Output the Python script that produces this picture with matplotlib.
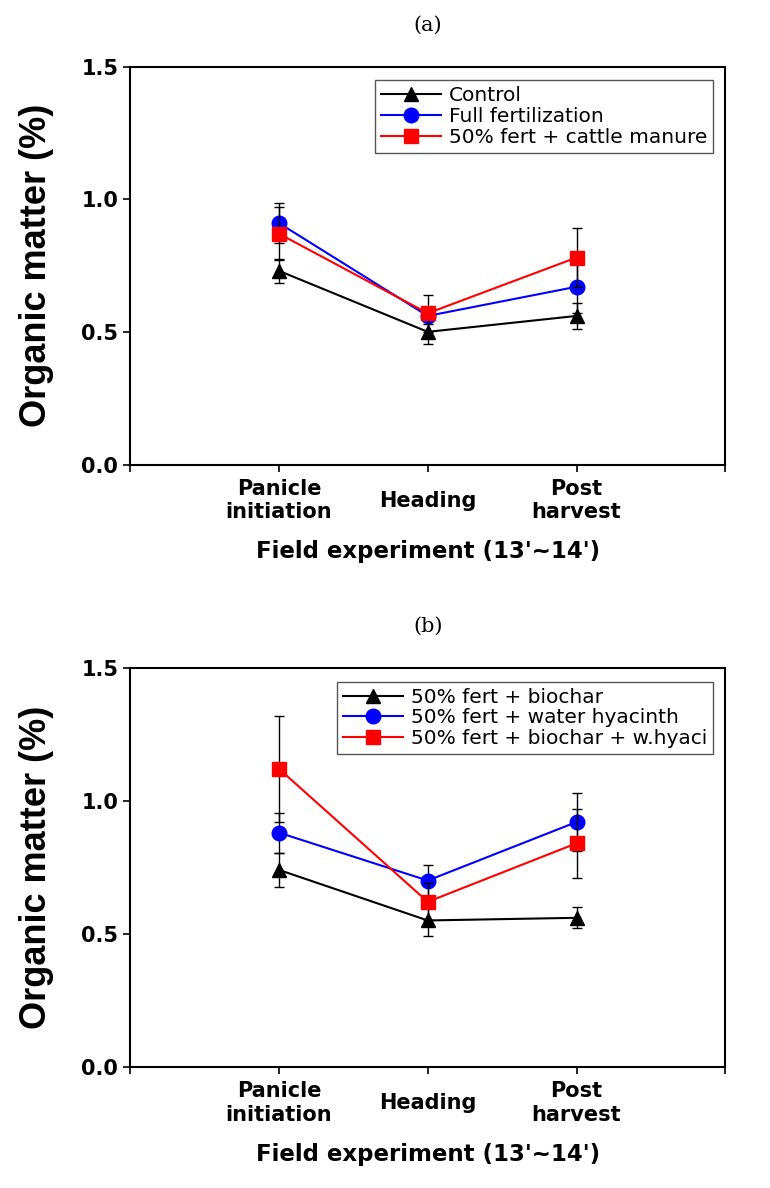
import matplotlib
matplotlib.use("Agg")
import matplotlib.pyplot as plt
from matplotlib.lines import Line2D
from matplotlib.font_manager import FontProperties

# stages on the x axis
stages = ["Panicle\ninitiation", "Heading", "Post\nharvest"]
stage_x = [1, 2, 3]

# panel (a)
labels_a = ["Control", "Full fertilization", "50% fert + cattle manure"]
control = [0.73, 0.50, 0.56]
control_err = [0.045, 0.045, 0.05]
full_fert = [0.91, 0.56, 0.67]
full_fert_err = [0.075, 0.03, 0.10]
cattle = [0.87, 0.57, 0.78]
cattle_err = [0.10, 0.07, 0.11]

# panel (b)
labels_b = ["50% fert + biochar", "50% fert + water hyacinth", "50% fert + biochar + w.hyaci"]
biochar = [0.74, 0.55, 0.56]
biochar_err = [0.065, 0.06, 0.04]
hyacinth = [0.88, 0.70, 0.92]
hyacinth_err = [0.075, 0.06, 0.11]
bio_hya = [1.12, 0.62, 0.84]
bio_hya_err = [0.20, 0.07, 0.13]

colors = ["black", "#0000ff", "#ff0000"]
markers = ["^", "o", "s"]

tick_font = FontProperties(family="DejaVu Sans", weight="bold", size=15)
xlab_font = FontProperties(family="DejaVu Sans", weight="bold", size=16.5)
ylab_font = FontProperties(family="Liberation Sans", weight="bold", size=26)
leg_font = FontProperties(family="DejaVu Sans", size=14.5)
title_font = FontProperties(family="DejaVu Serif", size=15)

fig = plt.figure(figsize=(7.7, 11.88), dpi=100)
ax_a = fig.add_axes([0.169, 0.609, 0.773, 0.335])
ax_b = fig.add_axes([0.169, 0.102, 0.773, 0.336])


def draw_panel(ax, series, errs, labels, title):
    handles = []
    for i in range(3):
        ax.errorbar(stage_x, series[i], yerr=errs[i], color=colors[i], marker=markers[i],
                    markersize=10.5, linewidth=1.5, ecolor="black", elinewidth=1,
                    capsize=3.5, capthick=1, zorder=3 + i)
        handles.append(Line2D([], [], color=colors[i], marker=markers[i],
                              markersize=10.5, linewidth=1.5, label=labels[i]))
    ax.set_xlim(0, 4)
    ax.set_ylim(0, 1.5)
    ax.set_xticks([0, 1, 2, 3, 4])
    ax.set_xticklabels([""] + stages + [""])
    ax.set_yticks([0.0, 0.5, 1.0, 1.5])
    ax.set_yticklabels(["0.0", "0.5", "1.0", "1.5"])
    ax.tick_params(axis="both", direction="out", length=5, width=1.2)
    ax.tick_params(axis="x", pad=21)
    for lab in ax.get_xticklabels():
        lab.set_fontproperties(tick_font)
        lab.set_va("center")
        lab.set_linespacing(1.2)
    for lab in ax.get_yticklabels():
        lab.set_fontproperties(tick_font)
    for sp in ax.spines.values():
        sp.set_linewidth(1.5)
    ax.set_ylabel("Organic matter (%)", fontproperties=ylab_font)
    ax.yaxis.set_label_coords(-0.128, 0.5)
    ax.set_xlabel("Field experiment (13'~14')", fontproperties=xlab_font)
    ax.xaxis.set_label_coords(0.5, -0.19)
    ax.xaxis.label.set_va("top")
    leg = ax.legend(handles=handles, loc="upper right", bbox_to_anchor=(0.98, 0.965),
                    prop=leg_font, fancybox=False, framealpha=1, edgecolor="#555555",
                    handlelength=3.0, borderpad=0.3, labelspacing=0.08,
                    handletextpad=0.4, borderaxespad=0)
    leg.get_frame().set_linewidth(1)
    ax.set_title(title, fontproperties=title_font, pad=26)


draw_panel(ax_a, [control, full_fert, cattle], [control_err, full_fert_err, cattle_err],
           labels_a, "(a)")
draw_panel(ax_b, [biochar, hyacinth, bio_hya], [biochar_err, hyacinth_err, bio_hya_err],
           labels_b, "(b)")

fig.savefig("out.png", dpi=100)
